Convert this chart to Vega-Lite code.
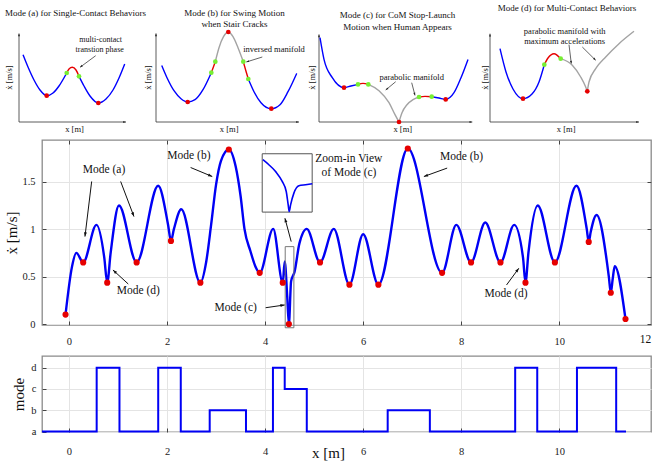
{
"$schema": "https://vega.github.io/schema/vega-lite/v6.json",
"padding": {"left": 4, "top": 4, "right": 0, "bottom": 0},
"config": {
  "font": "Liberation Serif",
  "view": {"stroke": null},
  "axis": {"labelFont": "Liberation Serif", "titleFont": "Liberation Serif", "titleFontWeight": "normal", "labelColor": "#222", "titleColor": "#111"},
  "title": {"font": "Liberation Serif", "fontWeight": "normal", "color": "#111"}
},
"datasets": {
  "curve": [
    {"x":-0.07,"y":0.10},{"x":0.06,"y":0.60},{"x":0.15,"y":0.75},{"x":0.29,"y":0.65},{"x":0.56,"y":1.045},{"x":0.72,"y":0.70},{"x":0.78,"y":0.436},{"x":0.85,"y":0.75},{"x":1.02,"y":1.25},{"x":1.38,"y":0.65},{"x":1.82,"y":1.457},{"x":2.02,"y":1.05},{"x":2.08,"y":0.876},{"x":2.14,"y":1.0},{"x":2.29,"y":1.21},{"x":2.68,"y":0.436},{"x":2.80,"y":0.66},{"x":2.90,"y":1.05},{"x":3.00,"y":1.47},{"x":3.10,"y":1.72},{"x":3.26,"y":1.84},{"x":3.40,"y":1.66},{"x":3.50,"y":1.35},{"x":3.58,"y":1.00},{"x":3.70,"y":0.77},{"x":3.80,"y":0.61},{"x":3.89,"y":0.54},{"x":4.165,"y":1.003},{"x":4.36,"y":0.436},{"x":4.40,"y":0.66},{"x":4.45,"y":0.30},{"x":4.485,"y":0.0},{"x":4.53,"y":0.45},{"x":4.60,"y":0.55},{"x":4.70,"y":0.85},{"x":4.85,"y":1.003},{"x":5.12,"y":0.65},{"x":5.40,"y":1.003},{"x":5.72,"y":0.415},{"x":6.00,"y":0.947},{"x":6.31,"y":0.415},{"x":6.91,"y":1.85},{"x":7.61,"y":0.54},{"x":7.90,"y":1.045},{"x":8.20,"y":0.65},{"x":8.49,"y":1.07},{"x":8.80,"y":0.65},{"x":9.08,"y":1.045},{"x":9.26,"y":0.70},{"x":9.31,"y":0.436},{"x":9.37,"y":0.75},{"x":9.56,"y":1.25},{"x":9.91,"y":0.65},{"x":10.35,"y":1.457},{"x":10.56,"y":1.0},{"x":10.60,"y":0.866},{"x":10.64,"y":0.97},{"x":10.76,"y":1.15},{"x":11.01,"y":0.50},{"x":11.05,"y":0.33},{"x":11.09,"y":0.48},{"x":11.13,"y":0.61},{"x":11.35,"y":0.053}
  ],
  "switches": [
    {"x":-0.07,"y":0.10},{"x":0.29,"y":0.65},{"x":0.78,"y":0.436},{"x":1.38,"y":0.65},{"x":2.08,"y":0.876},{"x":2.68,"y":0.436},{"x":3.26,"y":1.84},{"x":3.89,"y":0.54},{"x":4.36,"y":0.436},{"x":4.485,"y":0.0},{"x":5.12,"y":0.65},{"x":5.72,"y":0.415},{"x":6.31,"y":0.415},{"x":6.91,"y":1.85},{"x":7.61,"y":0.54},{"x":8.20,"y":0.65},{"x":8.80,"y":0.65},{"x":9.31,"y":0.436},{"x":9.91,"y":0.65},{"x":10.60,"y":0.866},{"x":11.05,"y":0.33},{"x":11.35,"y":0.053}
  ],
  "zoom": [
    {"x":3.955,"y":1.732},{"x":4.077,"y":1.679},{"x":4.214,"y":1.608},{"x":4.349,"y":1.503},{"x":4.431,"y":1.397},{"x":4.471,"y":1.256},{"x":4.492,"y":1.186},{"x":4.520,"y":1.256},{"x":4.587,"y":1.380},{"x":4.689,"y":1.457},{"x":4.825,"y":1.468},{"x":4.962,"y":1.478}
  ],
  "boxes": [
    {"x":3.941,"x2":4.960,"y":1.180,"y2":1.795,"box":"inset"},
    {"x":4.41,"x2":4.587,"y":-0.039,"y2":0.816,"box":"focus"}
  ],
  "arrows": [
    {"x":0.463,"y":1.503,"x2":0.326,"y2":0.922},
    {"x":1.054,"y":1.503,"x2":1.325,"y2":1.133},
    {"x":1.209,"y":0.422,"x2":0.897,"y2":0.570},
    {"x":2.481,"y":1.650,"x2":2.922,"y2":1.555},
    {"x":4.532,"y":0.869,"x2":4.404,"y2":1.116},
    {"x":4.010,"y":0.172,"x2":4.398,"y2":0.201},
    {"x":7.713,"y":1.644,"x2":7.238,"y2":1.555},
    {"x":8.924,"y":0.412,"x2":9.174,"y2":0.588}
  ],
  "notes": [
    {"t":"Mode (a)","x":0.714,"y":1.619},
    {"t":"Mode (d)","x":1.413,"y":0.352},
    {"t":"Mode (b)","x":2.446,"y":1.774},
    {"t":"Zoom-in View","x":5.708,"y":1.742},
    {"t":"of Mode (c)","x":5.71,"y":1.595},
    {"t":"Mode (c)","x":3.399,"y":0.172},
    {"t":"Mode (b)","x":8.006,"y":1.756},
    {"t":"Mode (d)","x":8.915,"y":0.314},
    {"t":"12","x":11.76,"y":-0.169}
  ],
  "modes": [
    {"x":-0.55,"m":0},{"x":0.565,"m":3},{"x":1.03,"m":0},{"x":1.82,"m":3},{"x":2.28,"m":0},{"x":2.87,"m":1},{"x":3.61,"m":0},{"x":4.16,"m":3},{"x":4.40,"m":2},{"x":4.85,"m":0},{"x":6.50,"m":1},{"x":7.36,"m":0},{"x":9.10,"m":3},{"x":9.55,"m":0},{"x":10.36,"m":3},{"x":11.16,"m":0},{"x":11.36,"m":0}
  ]
},
"spacing": 5,
"vconcat": [
  {
    "bounds": "flush",
    "spacing": 18,
    "hconcat": [
      {
        "width": 119, "height": 90,
        "title": {"text": "Mode (a) for Single-Contact Behaviors", "fontSize": 9, "offset": 14, "dx": -3},
        "encoding": {
          "x": {"field": "x", "type": "quantitative", "scale": {"domain": [0, 11.9], "nice": false, "zero": false}, "axis": {"title": "x [m]", "domain": false, "ticks": false, "labels": false, "grid": false, "titleFontSize": 8.5, "titlePadding": 2, "titleX": 55}},
          "y": {"field": "y", "type": "quantitative", "scale": {"domain": [0, 9], "nice": false, "zero": false}, "axis": {"title": "ẋ [m/s]", "domain": false, "ticks": false, "labels": false, "grid": false, "titleFontSize": 8.5, "titlePadding": 6}}
        },
        "layer": [
          {"data": {"values": [{"x":0,"y":0,"x2":10.7,"y2":0},{"x":0,"y":0,"x2":0,"y2":8.85}]},
           "mark": {"type": "rule", "color": "#333", "strokeWidth": 0.8},
           "encoding": {"x2": {"field": "x2"}, "y2": {"field": "y2"}}},
          {"data": {"values": [{"x":0,"y":0,"x2":10.7,"y2":0},{"x":0,"y":0,"x2":0,"y2":8.85},{"x":7.67,"y":6.63,"x2":6.1,"y2":5.47}]},
           "transform": [{"calculate": "atan2(datum.x2-datum.x, datum.y2-datum.y)*180/PI", "as": "ang"}],
           "mark": {"type": "point", "shape": "M0,0L-0.5,1.4L0.5,1.4Z", "filled": true, "color": "#222", "size": 16, "opacity": 1},
           "encoding": {
             "x": {"field": "x2", "type": "quantitative", "scale": {"domain": [0, 11.9], "nice": false, "zero": false}, "axis": {"title": "x [m]", "domain": false, "ticks": false, "labels": false, "grid": false, "titleFontSize": 8.5, "titlePadding": 2, "titleX": 55}},
             "y": {"field": "y2", "type": "quantitative", "scale": {"domain": [0, 9], "nice": false, "zero": false}, "axis": {"title": "ẋ [m/s]", "domain": false, "ticks": false, "labels": false, "grid": false, "titleFontSize": 8.5, "titlePadding": 6}},
             "angle": {"field": "ang", "type": "quantitative", "scale": null}}},
          {"data": {"values": [{"x":7.67,"y":6.63,"x2":6.1,"y2":5.47}]},
           "mark": {"type": "rule", "color": "#222", "strokeWidth": 0.7},
           "encoding": {"x2": {"field": "x2"}, "y2": {"field": "y2"}}},
          {"data": {"values": [
             {"s":1,"p":"contact","x":0.4,"y":6.73},{"s":1,"p":"contact","x":0.9,"y":5.5},{"s":1,"p":"contact","x":1.5,"y":4.2},{"s":1,"p":"contact","x":2.1,"y":3.2},{"s":1,"p":"contact","x":2.77,"y":2.63},{"s":1,"p":"contact","x":3.4,"y":2.9},{"s":1,"p":"contact","x":4.0,"y":3.6},{"s":1,"p":"contact","x":4.77,"y":4.9},
             {"s":2,"p":"transition","x":4.77,"y":4.9},{"s":2,"p":"transition","x":5.0,"y":5.3},{"s":2,"p":"transition","x":5.33,"y":5.47},{"s":2,"p":"transition","x":5.7,"y":5.2},{"s":2,"p":"transition","x":6.0,"y":4.57},
             {"s":3,"p":"contact","x":6.0,"y":4.57},{"s":3,"p":"contact","x":6.5,"y":3.6},{"s":3,"p":"contact","x":7.1,"y":2.6},{"s":3,"p":"contact","x":7.93,"y":1.9},{"s":3,"p":"contact","x":8.7,"y":2.3},{"s":3,"p":"contact","x":9.4,"y":3.2},{"s":3,"p":"contact","x":10.0,"y":4.4},{"s":3,"p":"contact","x":10.57,"y":5.8}]},
           "mark": {"type": "line", "interpolate": "monotone", "strokeWidth": 1.4},
           "encoding": {"detail": {"field": "s"}, "color": {"field": "p", "type": "nominal", "scale": {"domain": ["contact", "transition", "manifold"], "range": ["#0000ff", "#e60000", "#a3a3a3"]}, "legend": null}}},
          {"data": {"values": [{"k":"mode","x":2.77,"y":2.63},{"k":"mode","x":7.93,"y":1.9},{"k":"switch","x":4.77,"y":4.9},{"k":"switch","x":6.0,"y":4.57}]},
           "mark": {"type": "circle", "size": 22, "opacity": 1},
           "encoding": {"fill": {"field": "k", "type": "nominal", "scale": {"domain": ["mode", "switch"], "range": ["#e60000", "#77ee33"]}, "legend": null}}},
          {"data": {"values": [{"t":"multi-contact","x":8.17,"y":8.23},{"t":"transtion phase","x":8.07,"y":7.2}]},
           "mark": {"type": "text", "fontSize": 8, "color": "#111", "baseline": "middle"},
           "encoding": {"text": {"field": "t"}}}
        ]
      },
      {
        "width": 145, "height": 90,
        "title": {"text": ["Mode (b) for Swing Motion", "when Stair Cracks"], "fontSize": 9, "offset": 0, "lineHeight": 11.7, "dx": 6},
        "encoding": {
          "x": {"field": "x", "type": "quantitative", "scale": {"domain": [0, 14.5], "nice": false, "zero": false}, "axis": {"title": "x [m]", "domain": false, "ticks": false, "labels": false, "grid": false, "titleFontSize": 8.5, "titlePadding": 2, "titleX": 72.7}},
          "y": {"field": "y", "type": "quantitative", "scale": {"domain": [0, 9], "nice": false, "zero": false}, "axis": {"title": "ẋ [m/s]", "domain": false, "ticks": false, "labels": false, "grid": false, "titleFontSize": 8.5, "titlePadding": 4}}
        },
        "layer": [
          {"data": {"values": [{"x":0,"y":0,"x2":14.3,"y2":0},{"x":0,"y":0,"x2":0,"y2":8.86}]},
           "mark": {"type": "rule", "color": "#333", "strokeWidth": 0.8},
           "encoding": {"x2": {"field": "x2"}, "y2": {"field": "y2"}}},
          {"data": {"values": [{"x":0,"y":0,"x2":14.3,"y2":0},{"x":0,"y":0,"x2":0,"y2":8.86},{"x":10.63,"y":6.5,"x2":9.03,"y2":6.0}]},
           "transform": [{"calculate": "atan2(datum.x2-datum.x, datum.y2-datum.y)*180/PI", "as": "ang"}],
           "mark": {"type": "point", "shape": "M0,0L-0.5,1.4L0.5,1.4Z", "filled": true, "color": "#222", "size": 16, "opacity": 1},
           "encoding": {
             "x": {"field": "x2", "type": "quantitative", "scale": {"domain": [0, 14.5], "nice": false, "zero": false}, "axis": {"title": "x [m]", "domain": false, "ticks": false, "labels": false, "grid": false, "titleFontSize": 8.5, "titlePadding": 2, "titleX": 72.7}},
             "y": {"field": "y2", "type": "quantitative", "scale": {"domain": [0, 9], "nice": false, "zero": false}, "axis": {"title": "ẋ [m/s]", "domain": false, "ticks": false, "labels": false, "grid": false, "titleFontSize": 8.5, "titlePadding": 4}},
             "angle": {"field": "ang", "type": "quantitative", "scale": null}}},
          {"data": {"values": [{"x":10.63,"y":6.5,"x2":9.03,"y2":6.0}]},
           "mark": {"type": "rule", "color": "#222", "strokeWidth": 0.7},
           "encoding": {"x2": {"field": "x2"}, "y2": {"field": "y2"}}},
          {"data": {"values": [
             {"s":1,"p":"contact","x":0.57,"y":5.66},{"s":1,"p":"contact","x":1.1,"y":4.43},{"s":1,"p":"contact","x":1.8,"y":3.13},{"s":1,"p":"contact","x":2.5,"y":2.33},{"s":1,"p":"contact","x":3.17,"y":2.0},{"s":1,"p":"contact","x":3.9,"y":2.23},{"s":1,"p":"contact","x":4.7,"y":3.23},{"s":1,"p":"contact","x":5.53,"y":4.93},
             {"s":2,"p":"transition","x":5.53,"y":4.93},{"s":2,"p":"transition","x":5.73,"y":5.48},{"s":2,"p":"transition","x":5.93,"y":6.03},
             {"s":3,"p":"manifold","x":5.93,"y":6.03},{"s":3,"p":"manifold","x":6.3,"y":7.43},{"s":3,"p":"manifold","x":6.75,"y":8.53},{"s":3,"p":"manifold","x":7.23,"y":9.0},{"s":3,"p":"manifold","x":7.7,"y":8.53},{"s":3,"p":"manifold","x":8.2,"y":7.43},{"s":3,"p":"manifold","x":8.73,"y":6.03},
             {"s":4,"p":"transition","x":8.73,"y":6.03},{"s":4,"p":"transition","x":8.97,"y":5.18},{"s":4,"p":"transition","x":9.23,"y":4.3},
             {"s":5,"p":"contact","x":9.23,"y":4.3},{"s":5,"p":"contact","x":9.8,"y":3.03},{"s":5,"p":"contact","x":10.5,"y":1.93},{"s":5,"p":"contact","x":11.53,"y":1.33},{"s":5,"p":"contact","x":12.4,"y":1.73},{"s":5,"p":"contact","x":13.2,"y":3.03},{"s":5,"p":"contact","x":14.07,"y":4.86}]},
           "mark": {"type": "line", "interpolate": "monotone", "strokeWidth": 1.4},
           "encoding": {"detail": {"field": "s"}, "color": {"field": "p", "type": "nominal", "scale": {"domain": ["contact", "transition", "manifold"], "range": ["#0000ff", "#e60000", "#a3a3a3"]}, "legend": null}}},
          {"data": {"values": [{"k":"mode","x":3.17,"y":2.0},{"k":"mode","x":7.23,"y":9.0},{"k":"mode","x":11.53,"y":1.33},{"k":"switch","x":5.53,"y":4.93},{"k":"switch","x":5.93,"y":6.03},{"k":"switch","x":8.73,"y":6.03},{"k":"switch","x":9.23,"y":4.3}]},
           "mark": {"type": "circle", "size": 22, "opacity": 1},
           "encoding": {"fill": {"field": "k", "type": "nominal", "scale": {"domain": ["mode", "switch"], "range": ["#e60000", "#77ee33"]}, "legend": null}}},
          {"data": {"values": [{"t":"inversed manifold","x":11.8,"y":7.26}]},
           "mark": {"type": "text", "fontSize": 8.5, "color": "#111", "baseline": "middle"},
           "encoding": {"text": {"field": "t"}}}
        ]
      },
      {
        "width": 153, "height": 90,
        "title": {"text": ["Mode (c) for CoM Stop-Launch", "Motion when Human Appears"], "fontSize": 9, "offset": 0, "lineHeight": 11.7, "dx": 2},
        "encoding": {
          "x": {"field": "x", "type": "quantitative", "scale": {"domain": [0, 15.3], "nice": false, "zero": false}, "axis": {"title": "x [m]", "domain": false, "ticks": false, "labels": false, "grid": false, "titleFontSize": 8.5, "titlePadding": 2, "titleX": 83.3}},
          "y": {"field": "y", "type": "quantitative", "scale": {"domain": [0, 9], "nice": false, "zero": false}, "axis": {"title": "ẋ [m/s]", "domain": false, "ticks": false, "labels": false, "grid": false, "titleFontSize": 8.5, "titlePadding": 3}}
        },
        "layer": [
          {"data": {"values": [{"x":0,"y":0,"x2":15.33,"y2":0},{"x":0,"y":0,"x2":0,"y2":8.76}]},
           "mark": {"type": "rule", "color": "#333", "strokeWidth": 0.8},
           "encoding": {"x2": {"field": "x2"}, "y2": {"field": "y2"}}},
          {"data": {"values": [{"x":0,"y":0,"x2":15.33,"y2":0},{"x":0,"y":0,"x2":0,"y2":8.76},{"x":7.67,"y":4.03,"x2":6.67,"y2":3.2},{"x":9.27,"y":3.93,"x2":9.6,"y2":2.66}]},
           "transform": [{"calculate": "atan2(datum.x2-datum.x, datum.y2-datum.y)*180/PI", "as": "ang"}],
           "mark": {"type": "point", "shape": "M0,0L-0.5,1.4L0.5,1.4Z", "filled": true, "color": "#222", "size": 16, "opacity": 1},
           "encoding": {
             "x": {"field": "x2", "type": "quantitative", "scale": {"domain": [0, 15.3], "nice": false, "zero": false}, "axis": {"title": "x [m]", "domain": false, "ticks": false, "labels": false, "grid": false, "titleFontSize": 8.5, "titlePadding": 2, "titleX": 83.3}},
             "y": {"field": "y2", "type": "quantitative", "scale": {"domain": [0, 9], "nice": false, "zero": false}, "axis": {"title": "ẋ [m/s]", "domain": false, "ticks": false, "labels": false, "grid": false, "titleFontSize": 8.5, "titlePadding": 3}},
             "angle": {"field": "ang", "type": "quantitative", "scale": null}}},
          {"data": {"values": [{"x":7.67,"y":4.03,"x2":6.67,"y2":3.2},{"x":9.27,"y":3.93,"x2":9.6,"y2":2.66}]},
           "mark": {"type": "rule", "color": "#222", "strokeWidth": 0.7},
           "encoding": {"x2": {"field": "x2"}, "y2": {"field": "y2"}}},
          {"data": {"values": [
             {"s":1,"p":"contact","x":0.1,"y":8.43},{"s":1,"p":"contact","x":0.5,"y":6.26},{"s":1,"p":"contact","x":1.33,"y":4.43},{"s":1,"p":"contact","x":2.5,"y":3.43},{"s":1,"p":"contact","x":3.2,"y":3.6},{"s":1,"p":"contact","x":3.9,"y":3.76},
             {"s":2,"p":"transition","x":3.9,"y":3.76},{"s":2,"p":"transition","x":4.4,"y":3.86},{"s":2,"p":"transition","x":4.93,"y":3.76},
             {"s":3,"p":"manifold","x":4.93,"y":3.76},{"s":3,"p":"manifold","x":6.0,"y":3.13},{"s":3,"p":"manifold","x":7.0,"y":1.93},{"s":3,"p":"manifold","x":7.6,"y":0.73},{"s":3,"p":"manifold","x":8.0,"y":0.0},
             {"s":4,"p":"manifold","x":8.0,"y":0.0},{"s":4,"p":"manifold","x":8.3,"y":0.93},{"s":4,"p":"manifold","x":8.8,"y":1.73},{"s":4,"p":"manifold","x":9.4,"y":2.23},{"s":4,"p":"manifold","x":10.0,"y":2.5},
             {"s":5,"p":"transition","x":10.0,"y":2.5},{"s":5,"p":"transition","x":10.6,"y":2.56},{"s":5,"p":"transition","x":11.27,"y":2.53},
             {"s":6,"p":"contact","x":11.27,"y":2.53},{"s":6,"p":"contact","x":12.0,"y":2.4},{"s":6,"p":"contact","x":12.67,"y":2.26},{"s":6,"p":"contact","x":13.5,"y":2.93},{"s":6,"p":"contact","x":14.2,"y":4.43},{"s":6,"p":"contact","x":14.9,"y":6.26}]},
           "mark": {"type": "line", "interpolate": "monotone", "strokeWidth": 1.4},
           "encoding": {"detail": {"field": "s"}, "color": {"field": "p", "type": "nominal", "scale": {"domain": ["contact", "transition", "manifold"], "range": ["#0000ff", "#e60000", "#a3a3a3"]}, "legend": null}}},
          {"data": {"values": [{"k":"mode","x":2.5,"y":3.43},{"k":"mode","x":8.0,"y":0.0},{"k":"mode","x":12.67,"y":2.26},{"k":"switch","x":3.9,"y":3.76},{"k":"switch","x":4.93,"y":3.76},{"k":"switch","x":10.0,"y":2.5},{"k":"switch","x":11.27,"y":2.53}]},
           "mark": {"type": "circle", "size": 22, "opacity": 1},
           "encoding": {"fill": {"field": "k", "type": "nominal", "scale": {"domain": ["mode", "switch"], "range": ["#e60000", "#77ee33"]}, "legend": null}}},
          {"data": {"values": [{"t":"parabolic manifold","x":9.27,"y":4.53}]},
           "mark": {"type": "text", "fontSize": 8.5, "color": "#111", "baseline": "middle"},
           "encoding": {"text": {"field": "t"}}}
        ]
      },
      {
        "width": 160, "height": 90,
        "title": {"text": "Mode (d) for Multi-Contact Behaviors", "fontSize": 9, "offset": 14, "dx": -3},
        "encoding": {
          "x": {"field": "x", "type": "quantitative", "scale": {"domain": [0, 16], "nice": false, "zero": false}, "axis": {"title": "x [m]", "domain": false, "ticks": false, "labels": false, "grid": false, "titleFontSize": 8.5, "titlePadding": 2, "titleX": 75.7}},
          "y": {"field": "y", "type": "quantitative", "scale": {"domain": [0, 9], "nice": false, "zero": false}, "axis": {"title": "ẋ [m/s]", "domain": false, "ticks": false, "labels": false, "grid": false, "titleFontSize": 8.5, "titlePadding": 1}}
        },
        "layer": [
          {"data": {"values": [{"x":0,"y":0,"x2":14.9,"y2":0},{"x":0,"y":0,"x2":0,"y2":8.83}]},
           "mark": {"type": "rule", "color": "#333", "strokeWidth": 0.8},
           "encoding": {"x2": {"field": "x2"}, "y2": {"field": "y2"}}},
          {"data": {"values": [{"x":0,"y":0,"x2":14.9,"y2":0},{"x":0,"y":0,"x2":0,"y2":8.83},{"x":7.9,"y":7.73,"x2":8.13,"y2":5.83},{"x":9.23,"y":7.5,"x2":10.57,"y2":6.17}]},
           "transform": [{"calculate": "atan2(datum.x2-datum.x, datum.y2-datum.y)*180/PI", "as": "ang"}],
           "mark": {"type": "point", "shape": "M0,0L-0.5,1.4L0.5,1.4Z", "filled": true, "color": "#222", "size": 16, "opacity": 1},
           "encoding": {
             "x": {"field": "x2", "type": "quantitative", "scale": {"domain": [0, 16], "nice": false, "zero": false}, "axis": {"title": "x [m]", "domain": false, "ticks": false, "labels": false, "grid": false, "titleFontSize": 8.5, "titlePadding": 2, "titleX": 75.7}},
             "y": {"field": "y2", "type": "quantitative", "scale": {"domain": [0, 9], "nice": false, "zero": false}, "axis": {"title": "ẋ [m/s]", "domain": false, "ticks": false, "labels": false, "grid": false, "titleFontSize": 8.5, "titlePadding": 1}},
             "angle": {"field": "ang", "type": "quantitative", "scale": null}}},
          {"data": {"values": [{"x":7.9,"y":7.73,"x2":8.13,"y2":5.83},{"x":9.23,"y":7.5,"x2":10.57,"y2":6.17}]},
           "mark": {"type": "rule", "color": "#222", "strokeWidth": 0.7},
           "encoding": {"x2": {"field": "x2"}, "y2": {"field": "y2"}}},
          {"data": {"values": [
             {"s":1,"p":"contact","x":1.0,"y":7.33},{"s":1,"p":"contact","x":1.6,"y":5.0},{"s":1,"p":"contact","x":2.3,"y":3.3},{"s":1,"p":"contact","x":3.3,"y":2.33},{"s":1,"p":"contact","x":4.2,"y":2.8},{"s":1,"p":"contact","x":4.9,"y":4.0},{"s":1,"p":"contact","x":5.43,"y":5.73},
             {"s":2,"p":"transition","x":5.43,"y":5.73},{"s":2,"p":"transition","x":5.8,"y":6.4},{"s":2,"p":"transition","x":6.4,"y":6.83},{"s":2,"p":"transition","x":7.07,"y":6.33},
             {"s":3,"p":"manifold","x":7.07,"y":6.33},{"s":3,"p":"manifold","x":8.23,"y":5.67},{"s":3,"p":"manifold","x":9.07,"y":4.5},{"s":3,"p":"manifold","x":9.57,"y":3.5},{"s":3,"p":"manifold","x":9.73,"y":3.07},
             {"s":4,"p":"manifold","x":9.73,"y":3.07},{"s":4,"p":"manifold","x":9.9,"y":4.0},{"s":4,"p":"manifold","x":10.57,"y":5.33},{"s":4,"p":"manifold","x":11.57,"y":6.5},{"s":4,"p":"manifold","x":12.9,"y":7.83},{"s":4,"p":"manifold","x":14.4,"y":9.07}]},
           "mark": {"type": "line", "interpolate": "monotone", "strokeWidth": 1.4},
           "encoding": {"detail": {"field": "s"}, "color": {"field": "p", "type": "nominal", "scale": {"domain": ["contact", "transition", "manifold"], "range": ["#0000ff", "#e60000", "#a3a3a3"]}, "legend": null}}},
          {"data": {"values": [{"k":"mode","x":3.3,"y":2.33},{"k":"mode","x":9.73,"y":3.07},{"k":"switch","x":5.43,"y":5.73},{"k":"switch","x":7.07,"y":6.33}]},
           "mark": {"type": "circle", "size": 22, "opacity": 1},
           "encoding": {"fill": {"field": "k", "type": "nominal", "scale": {"domain": ["mode", "switch"], "range": ["#e60000", "#77ee33"]}, "legend": null}}},
          {"data": {"values": [{"t":"parabolic manifold with","x":7.47,"y":9.07},{"t":"maximum accelerations","x":7.47,"y":8.1}]},
           "mark": {"type": "text", "fontSize": 8.5, "color": "#111", "baseline": "middle"},
           "encoding": {"text": {"field": "t"}}}
        ]
      }
    ]
  },
  {
    "bounds": "flush",
    "spacing": 0,
    "hconcat": [
      {"width": 23, "height": 10, "data": {"values": []}, "mark": "point", "encoding": {}},
      {
        "bounds": "flush",
        "spacing": 31,
        "vconcat": [
          {
            "width": 609, "height": 185,
            "view": {"stroke": "#8a8a8a", "strokeWidth": 1.3},
            "resolve": {"axis": {"x": "independent", "y": "independent"}},
            "layer": [
              {"data": {"name": "curve"},
               "mark": {"type": "line", "interpolate": "monotone", "color": "#0000f5", "strokeWidth": 2.4},
               "encoding": {
                 "x": {"field": "x", "type": "quantitative", "scale": {"domain": [-0.55, 11.87], "nice": false, "zero": false},
                       "axis": {"orient": "bottom", "values": [0, 2, 4, 6, 8, 10], "title": null, "grid": true, "gridColor": "#e4e4e4", "domain": false, "tickSize": -4, "tickColor": "#444", "labelFontSize": 10.5, "labelPadding": 15}},
                 "y": {"field": "y", "type": "quantitative", "scale": {"domain": [-0.01, 1.94], "nice": false, "zero": false},
                       "axis": {"orient": "left", "values": [0, 0.5, 1, 1.5], "format": "~g", "title": "ẋ [m/s]", "titleFontSize": 15, "titlePadding": 2, "grid": true, "gridColor": "#e4e4e4", "domain": false, "tickSize": -4, "tickColor": "#444", "labelFontSize": 10.5, "labelPadding": 11}}}},
              {"data": {"name": "boxes"},
               "transform": [{"filter": "datum.box == 'inset'"}],
               "mark": {"type": "rect", "fill": "white", "stroke": "#555", "strokeWidth": 1},
               "encoding": {
                 "x": {"field": "x", "type": "quantitative", "scale": {"domain": [-0.55, 11.87], "nice": false, "zero": false}, "axis": null},
                 "x2": {"field": "x2"},
                 "y": {"field": "y", "type": "quantitative", "scale": {"domain": [-0.01, 1.94], "nice": false, "zero": false}, "axis": null},
                 "y2": {"field": "y2"}}},
              {"data": {"name": "zoom"},
               "mark": {"type": "line", "interpolate": "monotone", "color": "#0000f5", "strokeWidth": 1.6},
               "encoding": {
                 "x": {"field": "x", "type": "quantitative", "scale": {"domain": [-0.55, 11.87], "nice": false, "zero": false}, "axis": null},
                 "y": {"field": "y", "type": "quantitative", "scale": {"domain": [-0.01, 1.94], "nice": false, "zero": false}, "axis": null}}},
              {"data": {"name": "boxes"},
               "transform": [{"filter": "datum.box == 'focus'"}],
               "mark": {"type": "rect", "fill": null, "stroke": "#777", "strokeWidth": 1, "clip": false},
               "encoding": {
                 "x": {"field": "x", "type": "quantitative", "scale": {"domain": [-0.55, 11.87], "nice": false, "zero": false}, "axis": null},
                 "x2": {"field": "x2"},
                 "y": {"field": "y", "type": "quantitative", "scale": {"domain": [-0.01, 1.94], "nice": false, "zero": false}, "axis": null},
                 "y2": {"field": "y2"}}},
              {"data": {"name": "arrows"},
               "mark": {"type": "rule", "color": "#111", "strokeWidth": 1},
               "encoding": {
                 "x": {"field": "x", "type": "quantitative", "scale": {"domain": [-0.55, 11.87], "nice": false, "zero": false}, "axis": null},
                 "x2": {"field": "x2"},
                 "y": {"field": "y", "type": "quantitative", "scale": {"domain": [-0.01, 1.94], "nice": false, "zero": false}, "axis": null},
                 "y2": {"field": "y2"}}},
              {"data": {"name": "arrows"},
               "transform": [{"calculate": "atan2((datum.x2-datum.x)*49.05, (datum.y2-datum.y)*94.7)*180/PI", "as": "ang"}],
               "mark": {"type": "point", "shape": "M0,0L-0.5,1.4L0.5,1.4Z", "filled": true, "color": "#111", "size": 36, "opacity": 1},
               "encoding": {
                 "x": {"field": "x2", "type": "quantitative", "scale": {"domain": [-0.55, 11.87], "nice": false, "zero": false}, "axis": null},
                 "y": {"field": "y2", "type": "quantitative", "scale": {"domain": [-0.01, 1.94], "nice": false, "zero": false}, "axis": null},
                 "angle": {"field": "ang", "type": "quantitative", "scale": null}}},
              {"data": {"name": "notes"},
               "mark": {"type": "text", "fontSize": 11.5, "color": "#111", "baseline": "middle"},
               "encoding": {
                 "x": {"field": "x", "type": "quantitative", "scale": {"domain": [-0.55, 11.87], "nice": false, "zero": false}, "axis": null},
                 "y": {"field": "y", "type": "quantitative", "scale": {"domain": [-0.01, 1.94], "nice": false, "zero": false}, "axis": null},
                 "text": {"field": "t"}}},
              {"data": {"name": "switches"},
               "mark": {"type": "circle", "color": "#e60000", "size": 38, "opacity": 1},
               "encoding": {
                 "x": {"field": "x", "type": "quantitative", "scale": {"domain": [-0.55, 11.87], "nice": false, "zero": false},
                       "axis": {"orient": "top", "values": [0, 2, 4, 6, 8, 10], "labels": false, "title": null, "grid": false, "domain": false, "tickSize": -4, "tickColor": "#444"}},
                 "y": {"field": "y", "type": "quantitative", "scale": {"domain": [-0.01, 1.94], "nice": false, "zero": false},
                       "axis": {"orient": "right", "values": [0, 0.5, 1, 1.5], "labels": false, "title": null, "grid": false, "domain": false, "tickSize": -4, "tickColor": "#444"}}}}
            ]
          },
          {
            "width": 609, "height": 76,
            "view": {"stroke": "#8a8a8a", "strokeWidth": 1.3},
            "data": {"name": "modes"},
            "mark": {"type": "line", "interpolate": "step-after", "color": "#0000f5", "strokeWidth": 2},
            "encoding": {
              "x": {"field": "x", "type": "quantitative", "scale": {"domain": [-0.55, 11.87], "nice": false, "zero": false},
                    "axis": {"values": [0, 2, 4, 6, 8, 10], "title": "x [m]", "titleFontSize": 15, "titleX": 286, "titleY": 25, "titleBaseline": "alphabetic", "grid": true, "gridColor": "#e4e4e4", "domain": false, "tickSize": -4, "tickColor": "#444", "labelFontSize": 10.5, "labelPadding": 18}},
              "y": {"field": "m", "type": "quantitative", "scale": {"domain": [-0.02, 3.55], "nice": false, "zero": false},
                    "axis": {"values": [0, 1, 2, 3], "labelExpr": "['a','b','c','d'][datum.value]", "title": "mode", "titleFontSize": 15, "titlePadding": 4, "grid": true, "gridColor": "#e4e4e4", "domain": false, "tickSize": -4, "tickColor": "#444", "labelFontSize": 10.5, "labelPadding": 10}}
            }
          }
        ]
      }
    ]
  }
]
}
